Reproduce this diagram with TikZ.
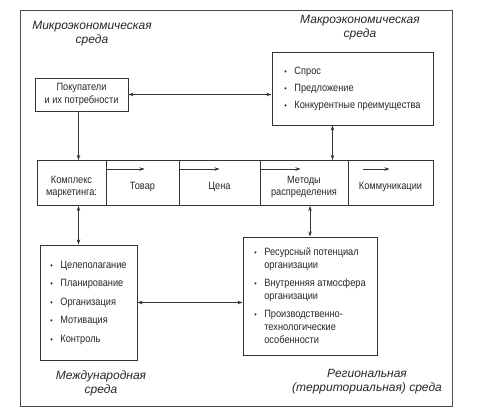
\documentclass[tikz,border=0pt]{standalone}
\usepackage{fontspec}
\setmainfont{Liberation Sans}[FakeStretch=0.87]
\newfontfamily\lblfont{Liberation Sans}
\usetikzlibrary{arrows.meta,positioning,calc}

\newcommand{\itm}{\makebox[10pt][l]{\footnotesize\textbullet}}
\newcommand{\ind}{\hspace*{10pt}}

\begin{document}
\begin{tikzpicture}[
  x=1pt, y=-1pt,
  box/.style={
    draw=black!80, rectangle, line width=1pt, inner sep=0pt,
    align=center, font=\fontsize{10.6}{12.5}\selectfont, text=black!85
  },
  listbox/.style={
    box, align=left
  },
  cell/.style={
    box, minimum height=45pt, label={[celltext]center:#1}
  },
  celltext/.style={
    align=center, font=\fontsize{10.6}{12.5}\selectfont, text=black!85, yshift=-4pt
  },
  sreda/.style={
    align=center, text=black!85,
    font=\lblfont\itshape\fontsize{12}{14}\selectfont
  },
  edge/.style={-{Stealth[length=5pt,width=3.5pt]}, line width=0.6pt, draw=black!80},
  dedge/.style={{Stealth[length=5pt,width=3.5pt]}-{Stealth[length=5pt,width=3.5pt]}, line width=0.6pt, draw=black!80}
]
\useasboundingbox (0,0) rectangle (477,416);
\draw[line width=0.8pt, black!70] (20,10) rectangle (452,406);

% environment labels
\node[sreda] (mikro)  at (92,34)  {Микроэкономическая\\среда};
\node[sreda] (makro)  at (360,28) {Макроэкономическая\\среда};
\node[sreda] (mezhd)  at (101,383) {Международная\\среда};
\node[sreda] (region) at (367,382) {Региональная\\(территориальная) среда};

% upper boxes
\node[box, minimum width=93pt, minimum height=33pt] (pokup) at (81.5,94.5)
  {Покупатели\\и их потребности};
\node[listbox, minimum width=161pt, minimum height=73pt] (makrobox) at (352.5,88.5)
  {\itm Спрос\\[4.5pt]\itm Предложение\\[4.5pt]\itm Конкурентные преимущества};

% marketing mix row
\node[cell={Комплекс\\маркетинга:}, minimum width=69pt] (kompl) at (71.5,183) {};
\node[cell=Товар, minimum width=73pt] (tovar) at (142.5,183) {};
\node[cell=Цена, minimum width=81pt] (cena) at (219.5,183) {};
\node[cell={Методы\\распределения}, minimum width=88pt] (metody) at (304,183) {};
\node[cell=Коммуникации, minimum width=85pt] (komm) at (390.5,183) {};

\foreach \c/\dx/\len in {tovar/1/38, cena/1/40, metody/1/40, komm/15/27}
  \draw[edge] ([shift={(\dx,9)}]\c.north west) -- ++(\len,0);

% lower boxes
\node[listbox, minimum width=97pt, minimum height=115pt] (upravl) at (88.5,302.5)
  {\itm Целеполагание\\[6pt]\itm Планирование\\[6pt]\itm Организация\\[6pt]%
   \itm Мотивация\\[6pt]\itm Контроль};
\node[listbox, minimum width=134pt, minimum height=118pt,
      font=\fontsize{10.6}{13}\selectfont] (resurs) at (310,296)
  {\itm Ресурсный потенциал\\\ind организации\\[5pt]%
   \itm Внутренняя атмосфера\\\ind организации\\[5pt]%
   \itm Производственно-\\\ind технологические\\\ind особенности};

% links
\draw[dedge] (pokup.east) -- (pokup.east -| makrobox.west);
\draw[edge]  ([xshift=-3pt]pokup.south) -- ([xshift=-3pt]pokup.south |- kompl.north);
\draw[dedge] ([xshift=-20pt]makrobox.south) -- ([xshift=-20pt]makrobox.south |- metody.north);
\draw[dedge] ([xshift=-10pt]upravl.north) -- ([xshift=-10pt]upravl.north |- kompl.south);
\draw[dedge] (resurs.north) -- (resurs.north |- metody.south);
\draw[dedge] (upravl.east) -- (upravl.east -| resurs.west);

\end{tikzpicture}
\end{document}
